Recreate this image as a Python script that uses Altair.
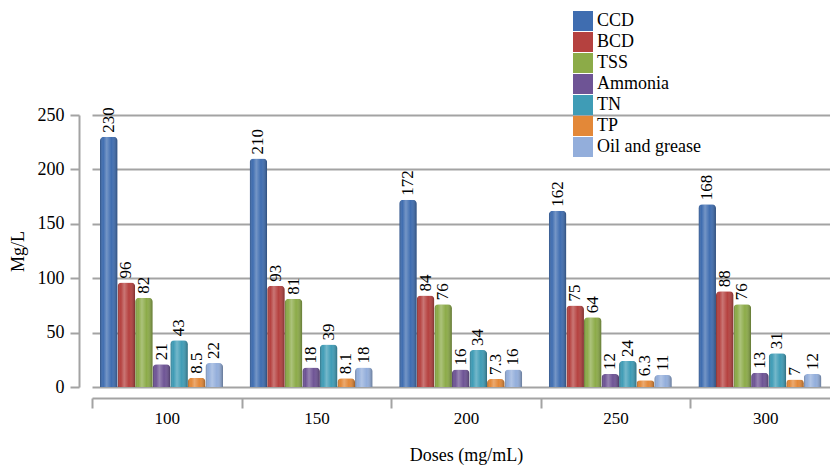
import altair as alt
import pandas as pd

# Doses (categories on the x axis) and the measured parameters
doses = ["100", "150", "200", "250", "300"]
params = ["CCD", "BCD", "TSS", "Ammonia", "TN", "TP", "Oil and grease"]

# Concentration (Mg/L) of each parameter at every dose
ccd = [230, 210, 172, 162, 168]
bcd = [96, 93, 84, 75, 88]
tss = [82, 81, 76, 64, 76]
ammonia = [21, 18, 16, 12, 13]
tn = [43, 39, 34, 24, 31]
tp = [8.5, 8.1, 7.3, 6.3, 7]
oil = [22, 18, 16, 11, 12]

colors = ["#3f6db0", "#b5413f", "#8cab48", "#6e5495", "#3f9cb6", "#e38838", "#93aedb"]

series = [ccd, bcd, tss, ammonia, tn, tp, oil]
rows = []
for name, vals in zip(params, series):
    for d, v in zip(doses, vals):
        label = str(int(v)) if float(v).is_integer() else str(v)
        rows.append({"dose": d, "param": name, "value": v, "label": label})
df = pd.DataFrame(rows)

FONT = "Liberation Serif"
GRID = "#a3a3a3"

x_enc = alt.X(
    "dose:N",
    sort=doses,
    scale=alt.Scale(range=[13, 761], paddingInner=0, paddingOuter=0),
    axis=alt.Axis(
        title="Doses (mg/mL)",
        labelAngle=0,
        offset=11,
        domainColor=GRID,
        domainWidth=2,
        tickBand="extent",
        tickSize=10,
        tickWidth=2,
        tickColor=GRID,
        labelFont=FONT,
        labelFontSize=17,
        labelColor="#000000",
        labelPadding=2,
        titleFont=FONT,
        titleFontSize=18,
        titleFontWeight="normal",
        titleColor="#000000",
        titlePadding=20,
    ),
)
xo_enc = alt.XOffset(
    "param:N", sort=params, scale=alt.Scale(range=[8, 131], paddingInner=0)
)
y_enc = alt.Y(
    "value:Q",
    scale=alt.Scale(domain=[0, 250], nice=False),
    axis=alt.Axis(
        title="Mg/L",
        values=[0, 50, 100, 150, 200, 250],
        domainColor=GRID,
        domainWidth=2,
        tickColor=GRID,
        tickSize=9,
        tickWidth=2,
        gridColor=GRID,
        gridWidth=2,
        labelFont=FONT,
        labelFontSize=18,
        labelColor="#000000",
        labelPadding=6,
        titleFont=FONT,
        titleFontSize=18,
        titleFontWeight="normal",
        titleColor="#000000",
        titleAngle=270,
        titleAlign="center",
        titleBaseline="middle",
        titleX=-61,
        titleY=136,
    ),
)

base = alt.Chart(df).encode(x=x_enc, xOffset=xo_enc, y=y_enc)

bars = base.mark_bar(cornerRadiusTopLeft=4, cornerRadiusTopRight=4).encode(
    color=alt.Color(
        "param:N",
        sort=params,
        scale=alt.Scale(domain=params, range=colors),
        legend=alt.Legend(
            title=None,
            orient="none",
            legendX=494,
            legendY=-104,
            symbolType="square",
            symbolSize=400,
            symbolStrokeWidth=0,
            symbolOpacity=1,
            labelFont=FONT,
            labelFontSize=18,
            labelColor="#000000",
            labelOffset=4,
            rowPadding=1,
            padding=0,
        ),
    )
)

# cylindrical shading laid over each bar
shade = base.mark_bar(
    cornerRadiusTopLeft=4,
    cornerRadiusTopRight=4,
    fill=alt.Gradient(
        gradient="linear",
        x1=0, x2=1, y1=0, y2=0,
        stops=[
            alt.GradientStop(offset=0, color="rgba(0,0,0,0.28)"),
            alt.GradientStop(offset=0.18, color="rgba(255,255,255,0.0)"),
            alt.GradientStop(offset=0.38, color="rgba(255,255,255,0.28)"),
            alt.GradientStop(offset=0.65, color="rgba(255,255,255,0.0)"),
            alt.GradientStop(offset=1, color="rgba(0,0,0,0.32)"),
        ],
    ),
)

labels = base.mark_text(
    angle=270,
    align="left",
    baseline="middle",
    dx=4,
    font=FONT,
    fontSize=17,
    color="#000000",
).encode(text="label:N")

chart = (
    alt.layer(bars, shade, labels)
    .properties(
        width=751,
        height=272,
        autosize="none",
        padding={"left": 79, "top": 115, "right": 0, "bottom": 79},
        background="#ffffff",
    )
    .configure_view(stroke=None)
)

chart.save("out.html", embed_options={"renderer": "svg", "actions": False})
